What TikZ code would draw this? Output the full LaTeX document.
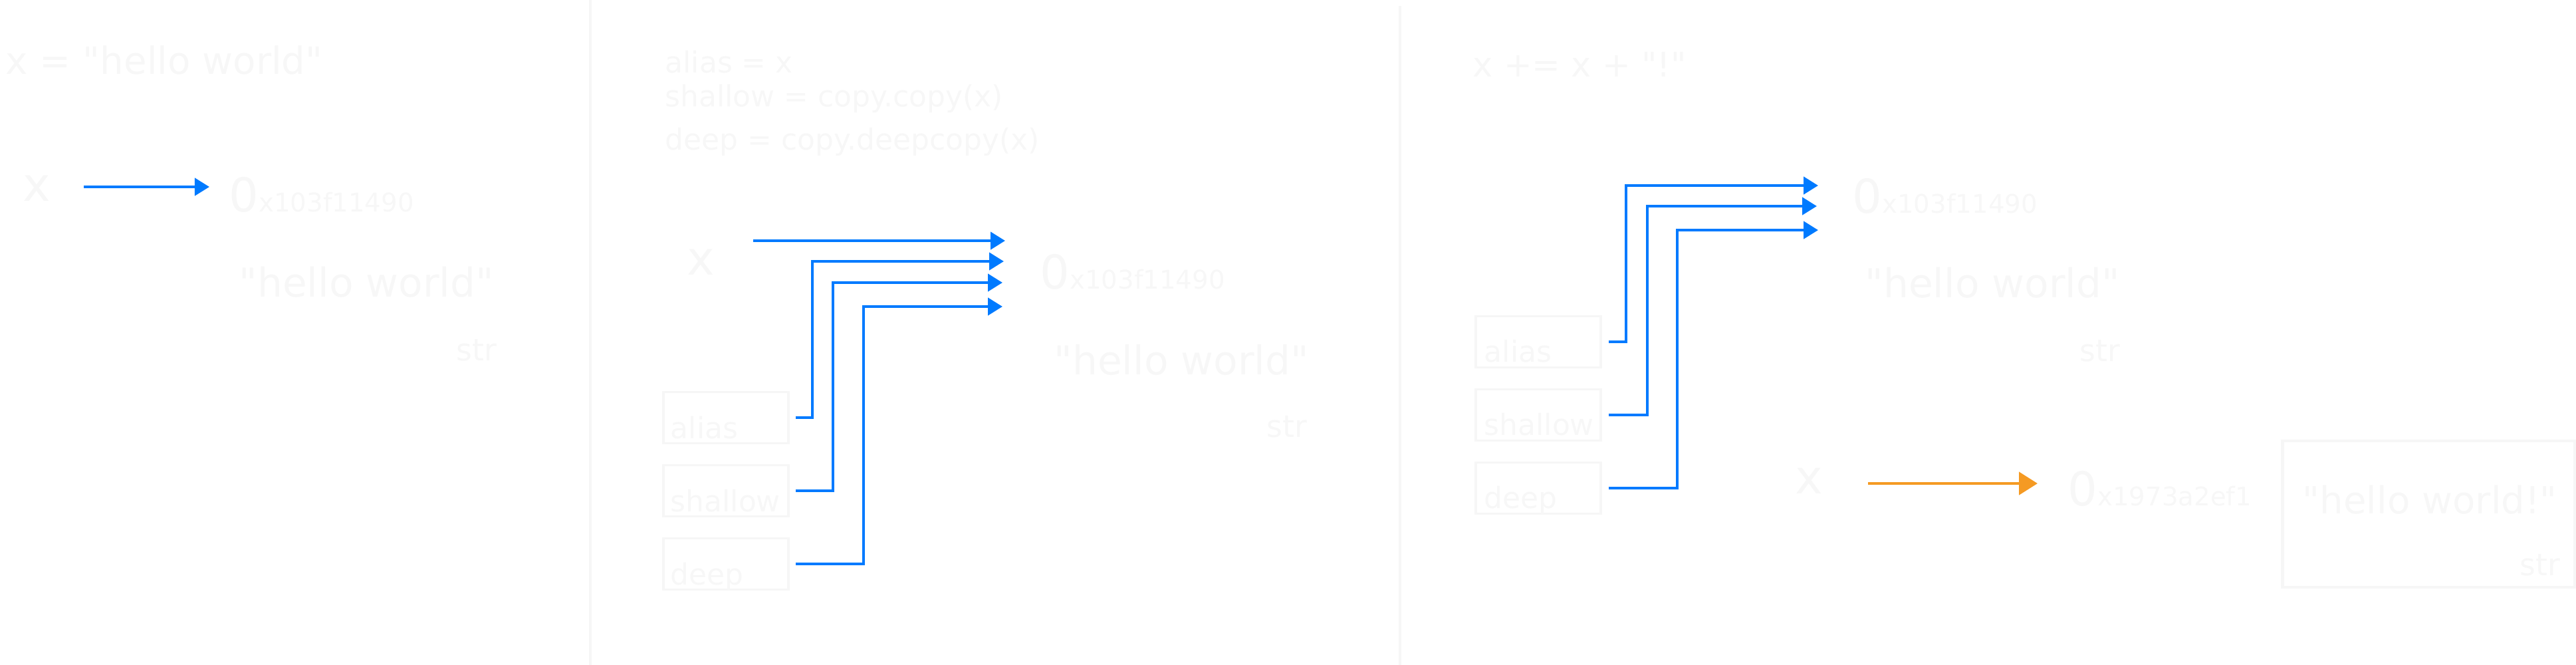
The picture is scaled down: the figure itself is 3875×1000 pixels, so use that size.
\documentclass[tikz,border=0pt]{standalone}
\usepackage{fontspec}
\setmainfont{DejaVu Sans}
\usetikzlibrary{arrows.meta}
\definecolor{ink}{HTML}{F7F7F7}
\definecolor{frame}{HTML}{F6F6F6}
\definecolor{ptrblue}{HTML}{007AFF}
\definecolor{ptrorange}{HTML}{F59A23}
\newcommand\addr[1]{{\fontsize{20}{24}\selectfont 0}{\fontsize{11}{13}\selectfont x#1}}
\newcommand\qq{\textquotedbl}

\begin{document}
\begin{tikzpicture}[x=0.01cm,y=-0.01cm,
    txt/.style={text=ink,inner sep=0pt,anchor=base west},
    big/.style={txt,font=\fontsize{16}{19}\selectfont},
    val/.style={txt,font=\fontsize{17}{20}\selectfont},
    code/.style={txt,font=\fontsize{12.5}{15}\selectfont},
    var/.style={txt,font=\fontsize{20}{24}\selectfont},
    tag/.style={txt,font=\fontsize{12.5}{15}\selectfont},
    kind/.style={txt,font=\fontsize{13}{15}\selectfont},
    refbox/.style={draw=frame,line width=1pt,minimum width=1.88cm,minimum height=0.77cm,inner sep=0pt},
    ptr/.style={draw=ptrblue,line width=1.3pt,-{Triangle[length=0.22cm,width=0.26cm]}},
    newptr/.style={draw=ptrorange,line width=1.4pt,-{Triangle[length=0.28cm,width=0.34cm]}}]
  \useasboundingbox (0,0) rectangle (3875,1000);
  % panel dividers
  \draw [frame, line width=1.2pt] (888,0) -- (888,1000);
  \draw [frame, line width=1.2pt] (2106,9) -- (2106,1000);

  % first panel
  \node [big] (titleA) at (8,111) {x = \qq hello world\qq};
  \node [var] (xA) at (34,302) {x};
  \node [txt] (addrA) at (344,318) {\addr{103f11490}};
  \node [val] (valA) at (359,446) {\qq hello world\qq};
  \node [kind] (typeA) at (686,542) {str};
  \coordinate (fromA) at (126,281);
  \coordinate (toA) at (315,281);
  \draw [ptr] (fromA) -- (toA);

  % second panel
  \node [code] (aliasLine) at (1000,109) {alias = x};
  \node [code] (shallowLine) at (1000,160) {shallow = copy.copy(x)};
  \node [code] (deepLine) at (1000,225) {deep = copy.deepcopy(x)};
  \node [var] (xB) at (1033,413) {x};
  \node [txt] (addrB) at (1564,434) {\addr{103f11490}};
  \node [val] (valB) at (1585,563) {\qq hello world\qq};
  \node [kind] (typeB) at (1905,657) {str};
  \node [refbox] (aliasB) at (1092,628) {};
  \node [refbox] (shallowB) at (1092,738) {};
  \node [refbox] (deepB) at (1092,848) {};
  \node [tag] at ([shift={(12,-9)}]aliasB.south west) {alias};
  \node [tag] at ([shift={(12,-9)}]shallowB.south west) {shallow};
  \node [tag] at ([shift={(12,-9)}]deepB.south west) {deep};
  \coordinate (fromB) at (1133,362);
  \coordinate (tipB0) at (1512,362);
  \coordinate (tipB1) at (1510,393);
  \coordinate (tipB2) at (1508,425);
  \coordinate (tipB3) at (1508,461);
  \draw [ptr] (fromB) -- (tipB0);
  \draw [ptr] ([shift={(9,0)}]aliasB.east) -- ++(25,0) |- (tipB1);
  \draw [ptr] ([shift={(9,0)}]shallowB.east) -- ++(56,0) |- (tipB2);
  \draw [ptr] ([shift={(9,0)}]deepB.east) -- ++(102,0) |- (tipB3);

  % third panel
  \node [big, font=\fontsize{14.5}{18}\selectfont] (titleC) at (2215,115) {x += x + \qq!\qq};
  \node [refbox] (aliasC) at (2314,514) {};
  \node [refbox] (shallowC) at (2314,624) {};
  \node [refbox] (deepC) at (2314,734) {};
  \node [tag] at ([shift={(14,-10)}]aliasC.south west) {alias};
  \node [tag] at ([shift={(14,-10)}]shallowC.south west) {shallow};
  \node [tag] at ([shift={(14,-10)}]deepC.south west) {deep};
  \node [txt] (addrC) at (2786,320) {\addr{103f11490}};
  \node [val] (valC) at (2805,447) {\qq hello world\qq};
  \node [kind] (typeC) at (3128,543) {str};
  \coordinate (tipC1) at (2735,279);
  \coordinate (tipC2) at (2733,310);
  \coordinate (tipC3) at (2735,346);
  \draw [ptr] ([shift={(10,0)}]aliasC.east) -- ++(26,0) |- (tipC1);
  \draw [ptr] ([shift={(10,0)}]shallowC.east) -- ++(58,0) |- (tipC2);
  \draw [ptr] ([shift={(10,0)}]deepC.east) -- ++(103,0) |- (tipC3);

  \node [var] (xC) at (2700,742) {x};
  \node [txt] (addrD) at (3110,760) {\addr{1973a2ef1}};
  \node [draw=frame, line width=1.2pt, minimum width=4.39cm, minimum height=2.2cm, inner sep=0pt] (heapD) at (3653,773) {};
  \node [big] (valD) at (3463,772) {\qq hello world!\qq};
  \node [kind] (typeD) at (3790,865) {str};
  \coordinate (fromD) at (2810,727);
  \coordinate (toD) at (3065,727);
  \draw [newptr] (fromD) -- (toD);
\end{tikzpicture}
\end{document}
